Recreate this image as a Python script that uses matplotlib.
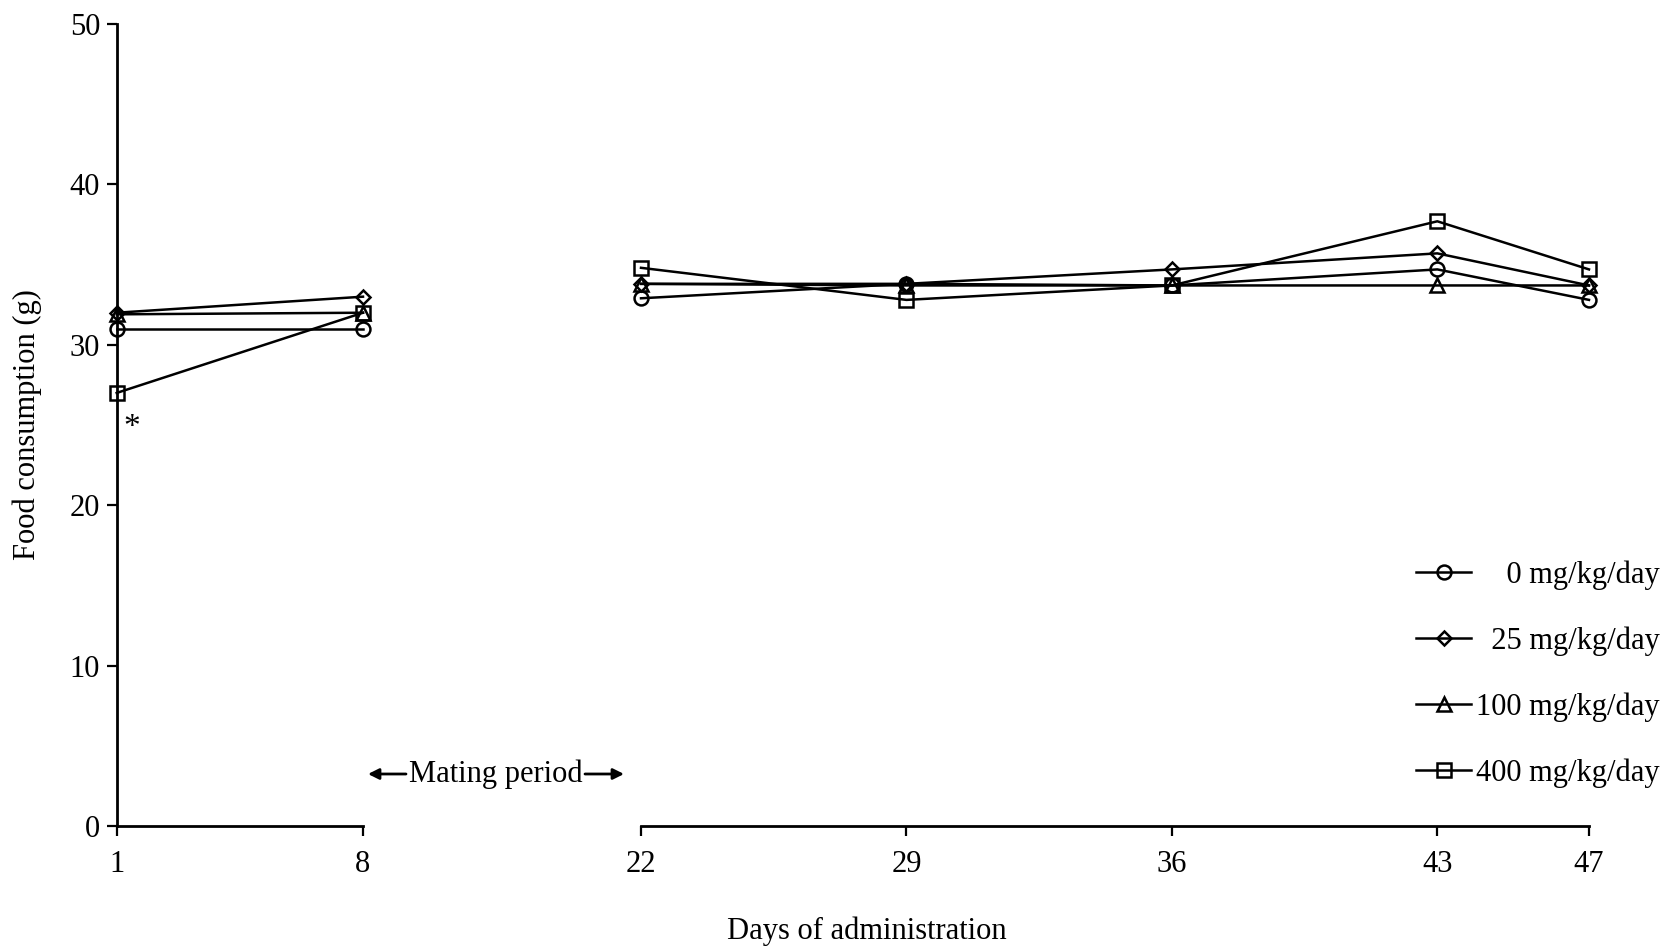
import matplotlib
matplotlib.use('Agg')
import matplotlib.pyplot as plt

plt.rcParams['font.family'] = ['Liberation Serif', 'DejaVu Serif']

# days of administration, split in two parts (mating period in between)
days_a = [1, 8]
days_b = [22, 29, 36, 43, 47]

# food consumption (g)
ctrl_a = [31.0, 31.0]
ctrl_b = [32.9, 33.8, 33.7, 34.7, 32.8]
d25_a = [32.0, 33.0]
d25_b = [33.8, 33.8, 34.7, 35.7, 33.7]
d100_a = [31.9, 32.0]
d100_b = [33.8, 33.7, 33.7, 33.7, 33.7]
d400_a = [27.0, 32.0]
d400_b = [34.8, 32.8, 33.7, 37.7, 34.7]

labels = ['    0 mg/kg/day', '  25 mg/kg/day', '100 mg/kg/day', '400 mg/kg/day']
markers = ['o', 'D', '^', 's']
msizes = [10, 7.5, 10, 10]
series_a = [ctrl_a, d25_a, d100_a, d400_a]
series_b = [ctrl_b, d25_b, d100_b, d400_b]

W, H = 1664, 947
fig = plt.figure(figsize=(W / 100, H / 100), dpi=100)
bottom = (H - 826) / H
height = (826 - 24) / H
ax1 = fig.add_axes([116.7 / W, bottom, (363 - 116.7) / W, height])
ax2 = fig.add_axes([641 / W, bottom, (1589 - 641) / W, height])

fs = 22
lw = 1.8
for ax, days, series in [(ax1, days_a, series_a), (ax2, days_b, series_b)]:
    for vals, m, ms, lab in zip(series, markers, msizes, labels):
        ax.plot(days, vals, color='black', lw=lw, marker=m, ms=ms,
                mfc='none', mec='black', mew=1.8, clip_on=False, label=lab)
    ax.set_ylim(0, 50)
    ax.set_xlim(days[0], days[-1])
    ax.set_xticks(days)
    ax.spines['top'].set_visible(False)
    ax.spines['right'].set_visible(False)
    ax.spines['bottom'].set_linewidth(2)
    ax.spines['left'].set_linewidth(2)
    ax.tick_params(direction='out', length=7, width=1.6, labelsize=fs, pad=10)
    ax.patch.set_visible(False)

ax1.set_yticks([0, 10, 20, 30, 40, 50])
ax1.tick_params(axis='y', pad=5)
ax2.spines['left'].set_visible(False)
ax2.tick_params(axis='y', left=False, labelleft=False)

ax1.set_ylabel('Food consumption (g)', fontsize=fs, labelpad=20)
fig.text(867 / W, 1 - 931 / H, 'Days of administration', fontsize=fs,
         ha='center', va='center')

# significance mark
ax1.text(1.42, 24.8, '*', fontsize=fs + 2, ha='center', va='center')

# mating period label with arrows
fig.text(496 / W, 1 - 774 / H, 'Mating period', fontsize=fs, ha='center', va='center')
arr = dict(arrowstyle='-|>', color='black', lw=2, mutation_scale=16, shrinkA=0, shrinkB=0)
fig.add_artist(matplotlib.patches.FancyArrowPatch((406 / W, 1 - 774 / H), (368 / W, 1 - 774 / H),
                                                  transform=fig.transFigure, **arr))
fig.add_artist(matplotlib.patches.FancyArrowPatch((585 / W, 1 - 774 / H), (624 / W, 1 - 774 / H),
                                                  transform=fig.transFigure, **arr))

h, l = ax2.get_legend_handles_labels()
fig.legend(h, l, loc='upper left', bbox_to_anchor=(1416 / W, 1 - 560 / H),
           frameon=False, fontsize=fs, handlelength=1.8, handletextpad=0.15,
           labelspacing=1.2, borderpad=0, borderaxespad=0)

fig.savefig('out.png', dpi=100)
